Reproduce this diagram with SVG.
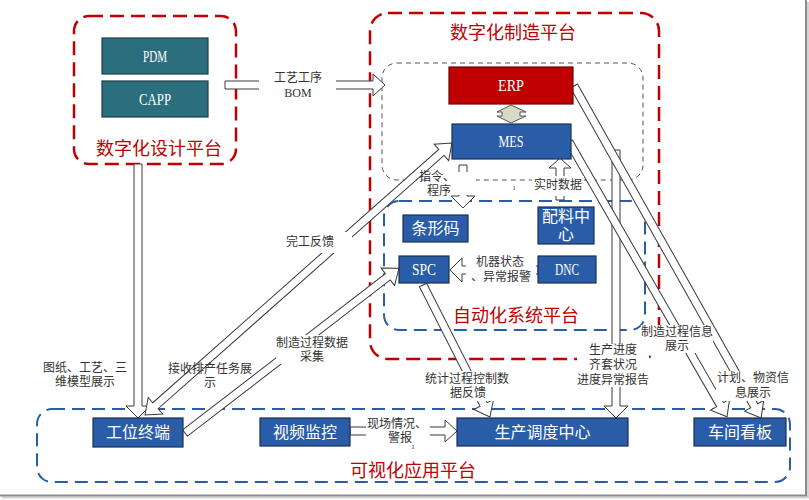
<svg xmlns="http://www.w3.org/2000/svg" width="809" height="500" viewBox="0 0 809 500">
<defs>
<style>
.red{fill:none;stroke:#C00000;stroke-width:2.5;stroke-dasharray:14 7}
.blue{fill:none;stroke:#2A5DA8;stroke-width:2;stroke-dasharray:13 7}
.gray{fill:none;stroke:#555;stroke-width:1;stroke-dasharray:5 4}
.teal{fill:#2B6E7D;stroke:#1E3C46;stroke-width:1.2}
.bnode{fill:#2A5DA8;stroke:#1C2F55;stroke-width:1.2}
.rnode{fill:#C00000;stroke:#6E0000;stroke-width:1.2}
.arr{fill:#fff;stroke:#3a3a3a;stroke-width:1}
.lb{fill:#fff}
.lbl{font-family:"Liberation Sans","Noto Sans CJK SC",sans-serif;font-size:12px;fill:#333;text-anchor:middle}
.ser{font-family:"Liberation Serif","Noto Sans CJK SC",serif}
.tiny{font-family:"Liberation Serif",serif;font-size:7px;fill:#333;text-anchor:middle}
.nt{font-family:"Liberation Sans","Noto Sans CJK SC",sans-serif;font-size:16px;fill:#fff;text-anchor:middle}
.nl{font-family:"Liberation Serif","Noto Sans CJK SC",serif;font-size:17px;fill:#fff;text-anchor:middle}
.title{font-family:"Noto Sans CJK SC",sans-serif;font-size:18px;fill:#C00000;text-anchor:middle}
</style>
</defs>
<rect x="0" y="0" width="809" height="500" fill="#fff"/>

<g id="design-platform">
<rect class="red" x="74" y="16" width="162" height="148" rx="15"/>
<text class="title" x="159" y="155">数字化设计平台</text>
</g>
<g id="manufacturing-platform">
<rect class="red" x="370" y="13" width="289" height="346" rx="18"/>
<text class="title" x="513" y="39">数字化制造平台</text>
</g>
<g id="erp-mes-group">
<rect class="gray" x="382" y="63" width="261" height="117" rx="15"/>
</g>
<g id="automation-platform">
<rect class="blue" x="384" y="201" width="261" height="129" rx="15"/>
<text class="title" x="516" y="322">自动化系统平台</text>
</g>
<g id="visual-platform">
<rect class="blue" x="37" y="409" width="753" height="73" rx="15"/>
<text class="title" x="413" y="477">可视化应用平台</text>
</g>

<g id="connectors">
<polygon class="arr" points="225,81 373,81 373,74 385,85 373,96 373,89 225,89"/>
<polygon class="arr" points="134,164 142,164 142,406 150,406 138,418 126,406 134,406"/>
<polygon class="arr" transform="translate(145,415) rotate(-41.54)" points="0,0 14,-11 14,-4 396,-4 396,-11 410,0 396,11 396,4 14,4 14,11"/>
<polygon class="arr" transform="translate(185,433) rotate(-37.6)" points="0,-4 256,-4 256,-11 270,0 256,11 256,4 0,4"/>
<polygon class="arr" transform="translate(423,285) rotate(63.1)" points="0,-4 134,-4 134,-11 148,0 134,11 134,4 0,4"/>
<polygon class="arr" points="612,150 620,150 620,406 628,406 616,418 604,406 612,406"/>
<polygon class="arr" transform="translate(569,142) rotate(60.1)" points="0,-4 303,-4 303,-11 317,0 303,11 303,4 0,4"/>
<polygon class="arr" transform="translate(574,86) rotate(60.6)" points="0,-4 367,-4 367,-11 381,0 367,11 367,4 0,4"/>
<polygon class="arr" points="459,165 467,165 467,196 475,196 463,208 451,196 459,196"/>
<polygon class="arr" points="556,200 564,200 564,168 571,168 560,158 549,168 556,168"/>
<polygon class="arr" points="538,266 462,266 462,258 450,270 462,282 462,274 538,274"/>
<polygon class="arr" points="350,427 445,427 445,420 457,431 445,442 445,435 350,435"/>
<polygon points="511,105 526,112 520,112 520,116 526,116 511,123 497,116 502,116 502,112 497,112" fill="#D7DAC5" stroke="#555" stroke-width="1"/>

<rect class="lb" x="259" y="70" width="77" height="30"/>
<rect class="lb" x="284" y="232" width="68" height="21"/>
<rect class="lb" x="276" y="335" width="72" height="29"/>
<rect class="lb" x="426" y="172" width="50" height="23"/>
<rect class="lb" x="532" y="176" width="52" height="20"/>
<rect class="lb" x="466" y="256" width="70" height="30"/>
<rect class="lb" x="424" y="371" width="88" height="30"/>
<rect class="lb" x="577" y="344" width="72" height="43"/>
<rect class="lb" x="641" y="325" width="72" height="28"/>
<rect class="lb" x="716" y="371" width="74" height="30"/>
<rect class="lb" x="366" y="417" width="64" height="29"/>

<text class="lbl" x="298" y="82">工艺工序<tspan class="ser" x="298" dy="15">BOM</tspan></text>
<text class="lbl" x="85" y="372">图纸、工艺、三<tspan x="85" dy="14">维模型展示</tspan></text>
<text class="lbl" x="310" y="246">完工反馈</text>
<text class="lbl" x="210" y="373">接收排产任务展<tspan x="210" dy="14">示</tspan></text>
<text class="lbl" x="312" y="347">制造过程数据<tspan x="312" dy="14">采集</tspan></text>
<text class="lbl" x="437" y="181">指令、<tspan x="439" dy="14">程序</tspan></text>
<text class="lbl" x="558" y="189">实时数据</text>
<text class="tiny" x="514" y="190">1</text>
<text class="lbl" x="500" y="266">机器状态<tspan x="501" dy="15">、异常报警</tspan></text>
<text class="lbl" x="467" y="383">统计过程控制数<tspan x="468" dy="14">据反馈</tspan></text>
<text class="lbl" x="613" y="354">生产进度<tspan x="613" dy="15">齐套状况</tspan><tspan x="613" dy="15">进度异常报告</tspan></text>
<text class="lbl" x="677" y="336">制造过程信息<tspan x="677" dy="14">展示</tspan></text>
<text class="lbl" x="753" y="382">计划、物资信<tspan x="753" dy="15">息展示</tspan></text>
<text class="lbl" x="397" y="428">现场情况、<tspan x="400" dy="14">警报</tspan></text>
<text class="tiny" x="413" y="449">1</text>
</g>

<g id="pdm"><rect class="teal" x="102" y="38" width="106" height="36"/><text class="nl" x="155" y="62" textLength="24" lengthAdjust="spacingAndGlyphs">PDM</text></g>
<g id="capp"><rect class="teal" x="102" y="81" width="106" height="36"/><text class="nl" x="155" y="105" textLength="32" lengthAdjust="spacingAndGlyphs">CAPP</text></g>
<g id="erp"><rect class="rnode" x="449" y="67" width="124" height="37"/><text class="nl" x="511" y="91" textLength="26" lengthAdjust="spacingAndGlyphs">ERP</text></g>
<g id="mes"><rect class="bnode" x="452" y="124" width="119" height="35"/><text class="nl" x="511" y="147" textLength="25" lengthAdjust="spacingAndGlyphs">MES</text></g>
<g id="barcode"><rect class="bnode" x="403" y="215" width="65" height="27"/><text class="nt" x="435.5" y="234">条形码</text></g>
<g id="material-center"><rect class="bnode" x="538" y="207" width="56" height="37"/><text class="nt" x="566" y="222">配料中<tspan x="566" dy="18">心</tspan></text></g>
<g id="spc"><rect class="bnode" x="399" y="256" width="50" height="27"/><text class="nl" x="424" y="275" textLength="24" lengthAdjust="spacingAndGlyphs">SPC</text></g>
<g id="dnc"><rect class="bnode" x="538" y="256" width="58" height="27"/><text class="nl" x="567" y="275" textLength="24" lengthAdjust="spacingAndGlyphs">DNC</text></g>
<g id="workstation"><rect class="bnode" x="93" y="418" width="90" height="29"/><text class="nt" x="138" y="438">工位终端</text></g>
<g id="video"><rect class="bnode" x="260" y="418" width="90" height="28"/><text class="nt" x="305" y="438">视频监控</text></g>
<g id="dispatch"><rect class="bnode" x="457" y="418" width="171" height="28"/><text class="nt" x="542.5" y="438">生产调度中心</text></g>
<g id="kanban"><rect class="bnode" x="694" y="418" width="92" height="28"/><text class="nt" x="740" y="438">车间看板</text></g>

<path d="M808,2 V497.5 H2" fill="none" stroke="#d4d4d4" stroke-width="2"/>
<path d="M806,0 V495.5 H0" fill="none" stroke="#8c8c8c" stroke-width="2"/>
</svg>
